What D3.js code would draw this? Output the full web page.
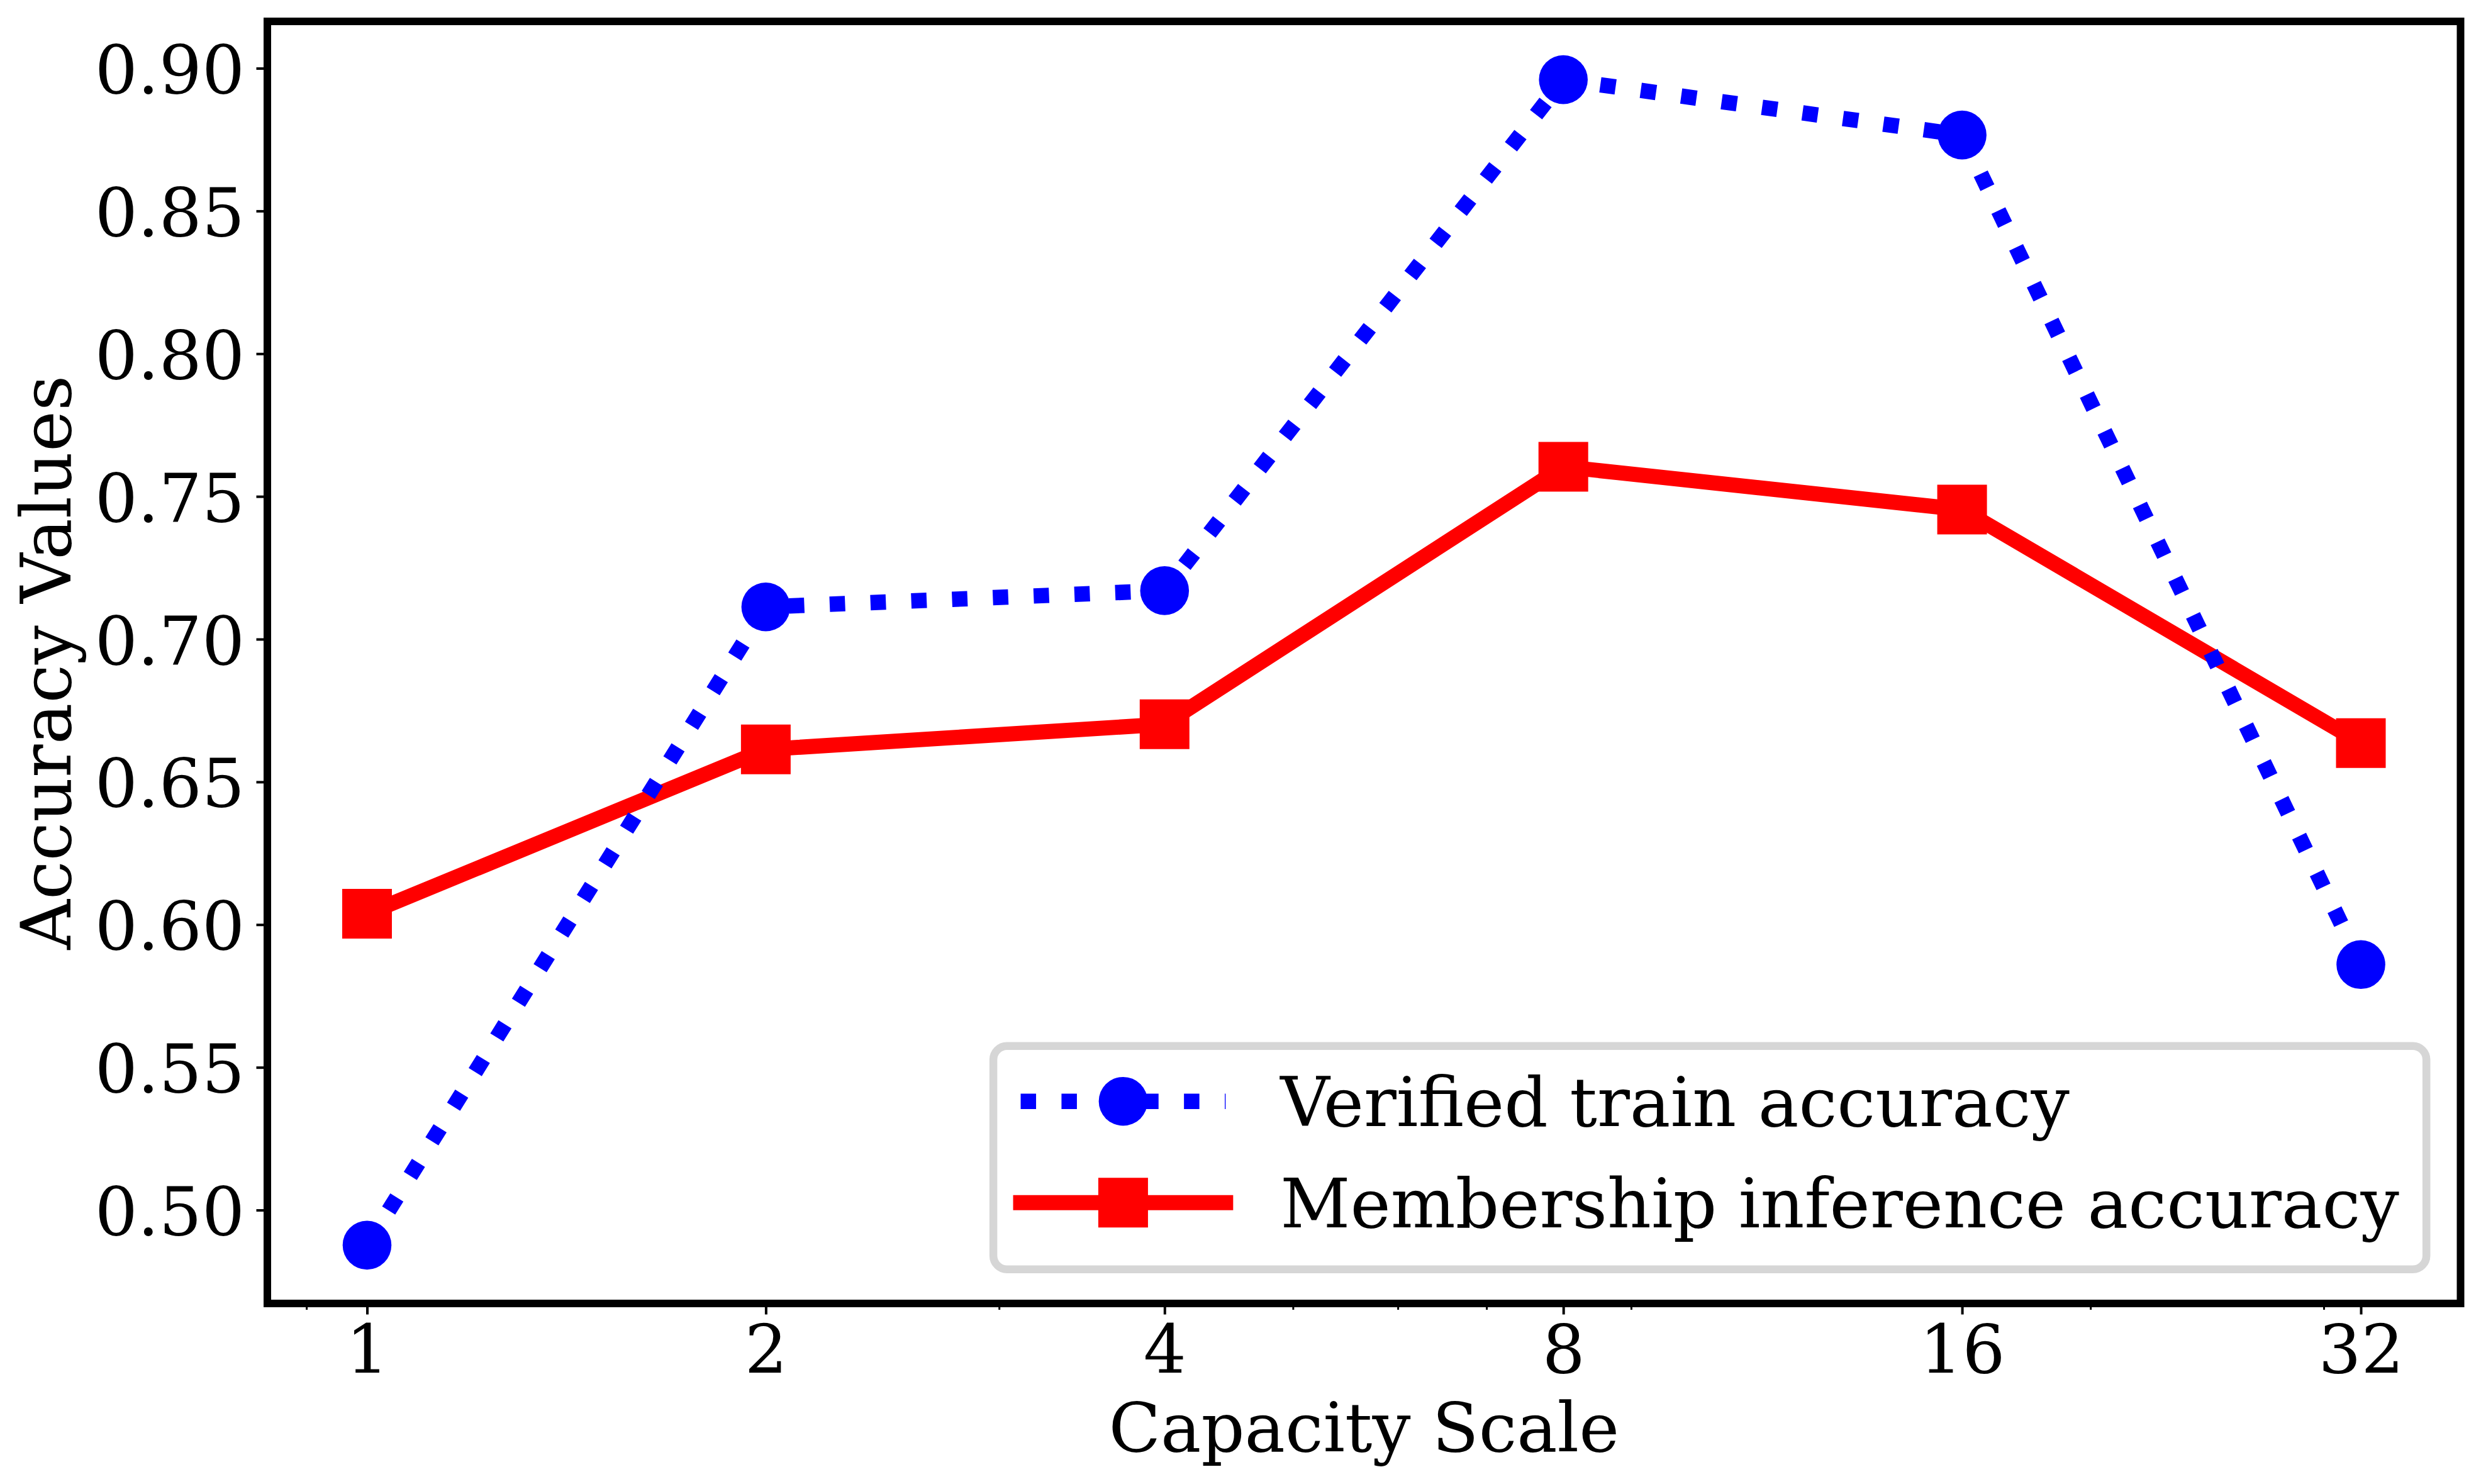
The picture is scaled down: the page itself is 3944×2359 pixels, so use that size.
<!DOCTYPE html>
<html><head><meta charset="utf-8">
<script src="https://cdn.jsdelivr.net/npm/d3@7"></script>
<style>
body{margin:0;background:#fff}
svg{display:block}
text{font-family:"DejaVu Serif",serif;fill:#000}
</style>
</head><body>
<svg id="chart" width="3944" height="2359"></svg>
<script>
// ---- data ----
const capacities = [1, 2, 4, 8, 16, 32];
const xTickLabels = ["1", "2", "4", "8", "16", "32"];
const verifiedTrainAcc = [0.4877, 0.7113, 0.7170, 0.8960, 0.8766, 0.5860];
const membershipAcc = [0.6038, 0.6614, 0.6702, 0.7604, 0.7454, 0.6636];
const yTicks = [0.50, 0.55, 0.60, 0.65, 0.70, 0.75, 0.80, 0.85, 0.90];
const xMinorTicks = [0.9, 3, 5, 6, 7, 9, 20, 30];
const seriesNames = ["Verified train accuracy", "Membership inference accuracy"];
const xLabel = "Capacity Scale";
const yLabel = "Accuracy Values";

// ---- layout ----
const W = 3944, H = 2359;
const L = 425, R = 3911.5, T = 34, B = 2072;
const TFS = 107, XLFS = 108, YLFS = 110, LFS = 108.6;

const svg = d3.select("#chart");
svg.append("rect").attr("width", W).attr("height", H).attr("fill", "#fff");

// x: log scale with matplotlib-like 5% margins in log space
const lx = capacities.map(Math.log10);
const lmin = d3.min(lx), lmax = d3.max(lx), lpad = 0.05 * (lmax - lmin);
const x = d3.scaleLog().domain([Math.pow(10, lmin - lpad), Math.pow(10, lmax + lpad)]).range([L, R]);

const allY = verifiedTrainAcc.concat(membershipAcc);
const ymin = d3.min(allY), ymax = d3.max(allY), ypad = 0.05 * (ymax - ymin);
const y = d3.scaleLinear().domain([ymin - ypad, ymax + ypad]).range([B, T]);

// ---- axes ----
const gxMinor = svg.append("g").attr("transform", `translate(0,${B})`)
  .call(d3.axisBottom(x).tickValues(xMinorTicks).tickSize(10).tickFormat(""));
gxMinor.select(".domain").remove();
gxMinor.selectAll("line").attr("stroke", "#000").attr("stroke-width", 3);

const gx = svg.append("g").attr("transform", `translate(0,${B})`)
  .call(d3.axisBottom(x).tickValues(capacities).tickSize(17.5).tickFormat((d, i) => xTickLabels[i]));
gx.select(".domain").remove();
gx.selectAll("line").attr("stroke", "#000").attr("stroke-width", 4);
gx.selectAll("text").attr("dy", null).attr("y", 110)
  .style("font-family", "DejaVu Serif").style("font-size", TFS + "px");

const gy = svg.append("g").attr("transform", `translate(${L},0)`)
  .call(d3.axisLeft(y).tickValues(yTicks).tickSize(17.5).tickFormat(d3.format(".2f")));
gy.select(".domain").remove();
gy.selectAll("line").attr("stroke", "#000").attr("stroke-width", 4);
gy.selectAll("text").attr("dy", 39).attr("x", -36)
  .style("font-family", "DejaVu Serif").style("font-size", TFS + "px");

// ---- series ----
const line = d3.line().x(d => x(d[0])).y(d => y(d[1]));
const redData = capacities.map((c, i) => [c, membershipAcc[i]]);
const blueData = capacities.map((c, i) => [c, verifiedTrainAcc[i]]);

const BLUE_LW = 24.5, RED_LW = 24;
const DASH = `${BLUE_LW},${(BLUE_LW * 1.65).toFixed(1)}`;
const SQ = 79, CR = 38.8;

// red series
svg.append("path").datum(redData).attr("d", line)
  .attr("fill", "none").attr("stroke", "#ff0000").attr("stroke-width", RED_LW)
  .attr("stroke-linejoin", "round").attr("stroke-linecap", "square");
svg.append("g").selectAll("path").data(redData).join("path")
  .attr("d", d3.symbol(d3.symbolSquare, SQ * SQ))
  .attr("transform", d => `translate(${x(d[0])},${y(d[1])})`)
  .attr("fill", "#ff0000");

// blue series
svg.append("path").datum(blueData).attr("d", line)
  .attr("fill", "none").attr("stroke", "#0000ff").attr("stroke-width", BLUE_LW)
  .attr("stroke-dasharray", DASH).attr("stroke-linejoin", "round").attr("stroke-linecap", "butt");
svg.append("g").selectAll("circle").data(blueData).join("circle")
  .attr("cx", d => x(d[0])).attr("cy", d => y(d[1])).attr("r", CR)
  .attr("fill", "#0000ff");

// ---- spines ----
svg.append("rect").attr("x", L).attr("y", T).attr("width", R - L).attr("height", B - T)
  .attr("fill", "none").attr("stroke", "#000").attr("stroke-width", 12);

// ---- axis labels ----
svg.append("text").attr("x", (L + R) / 2).attr("y", 2307).attr("text-anchor", "middle")
  .style("font-size", XLFS + "px").text(xLabel);
svg.append("text").attr("transform", `translate(112,${(T + B) / 2}) rotate(-90)`)
  .attr("text-anchor", "middle").style("font-size", YLFS + "px").text(yLabel);

// ---- legend (lower right) ----
const lg = svg.append("g");
const borderPad = 0.4 * LFS, handleLen = 3 * LFS, textPad = 0.8 * LFS;
const tmp = lg.append("g");
const widths = seriesNames.map(n => {
  const t = tmp.append("text").style("font-size", LFS + "px").text(n);
  const w = t.node().getComputedTextLength(); t.remove(); return w;
});
tmp.remove();
const lRight = R - 0.5 * LFS;
const lBottom = B - 0.5 * LFS;
const lWidth = 2 * borderPad + handleLen + textPad + d3.max(widths);
const lLeft = lRight - lWidth;
const lTop = lBottom - 355;
lg.append("rect").attr("x", lLeft).attr("y", lTop).attr("width", lWidth).attr("height", lBottom - lTop)
  .attr("rx", 0.2 * LFS).attr("ry", 0.2 * LFS)
  .attr("fill", "#ffffff").attr("fill-opacity", 0.8)
  .attr("stroke", "#d6d6d6").attr("stroke-width", 12.5);

const rowY = [lBottom - 267, lBottom - 106];
const hx0 = lLeft + borderPad, hx1 = hx0 + handleLen, hxc = (hx0 + hx1) / 2;

// row 1: blue dotted with circle
lg.append("line").attr("x1", hx0).attr("x2", hx1).attr("y1", rowY[0]).attr("y2", rowY[0])
  .attr("stroke", "#0000ff").attr("stroke-width", BLUE_LW).attr("stroke-dasharray", DASH)
  .attr("stroke-linecap", "butt");
lg.append("circle").attr("cx", hxc).attr("cy", rowY[0]).attr("r", CR).attr("fill", "#0000ff");
// row 2: red solid with square
lg.append("line").attr("x1", hx0).attr("x2", hx1).attr("y1", rowY[1]).attr("y2", rowY[1])
  .attr("stroke", "#ff0000").attr("stroke-width", RED_LW).attr("stroke-linecap", "square");
lg.append("path").attr("d", d3.symbol(d3.symbolSquare, SQ * SQ))
  .attr("transform", `translate(${hxc},${rowY[1]})`).attr("fill", "#ff0000");

seriesNames.forEach((n, i) => {
  lg.append("text").attr("x", hx1 + textPad).attr("y", rowY[i] + 0.3645 * LFS)
    .style("font-size", LFS + "px").text(n);
});
</script>
</body></html>
